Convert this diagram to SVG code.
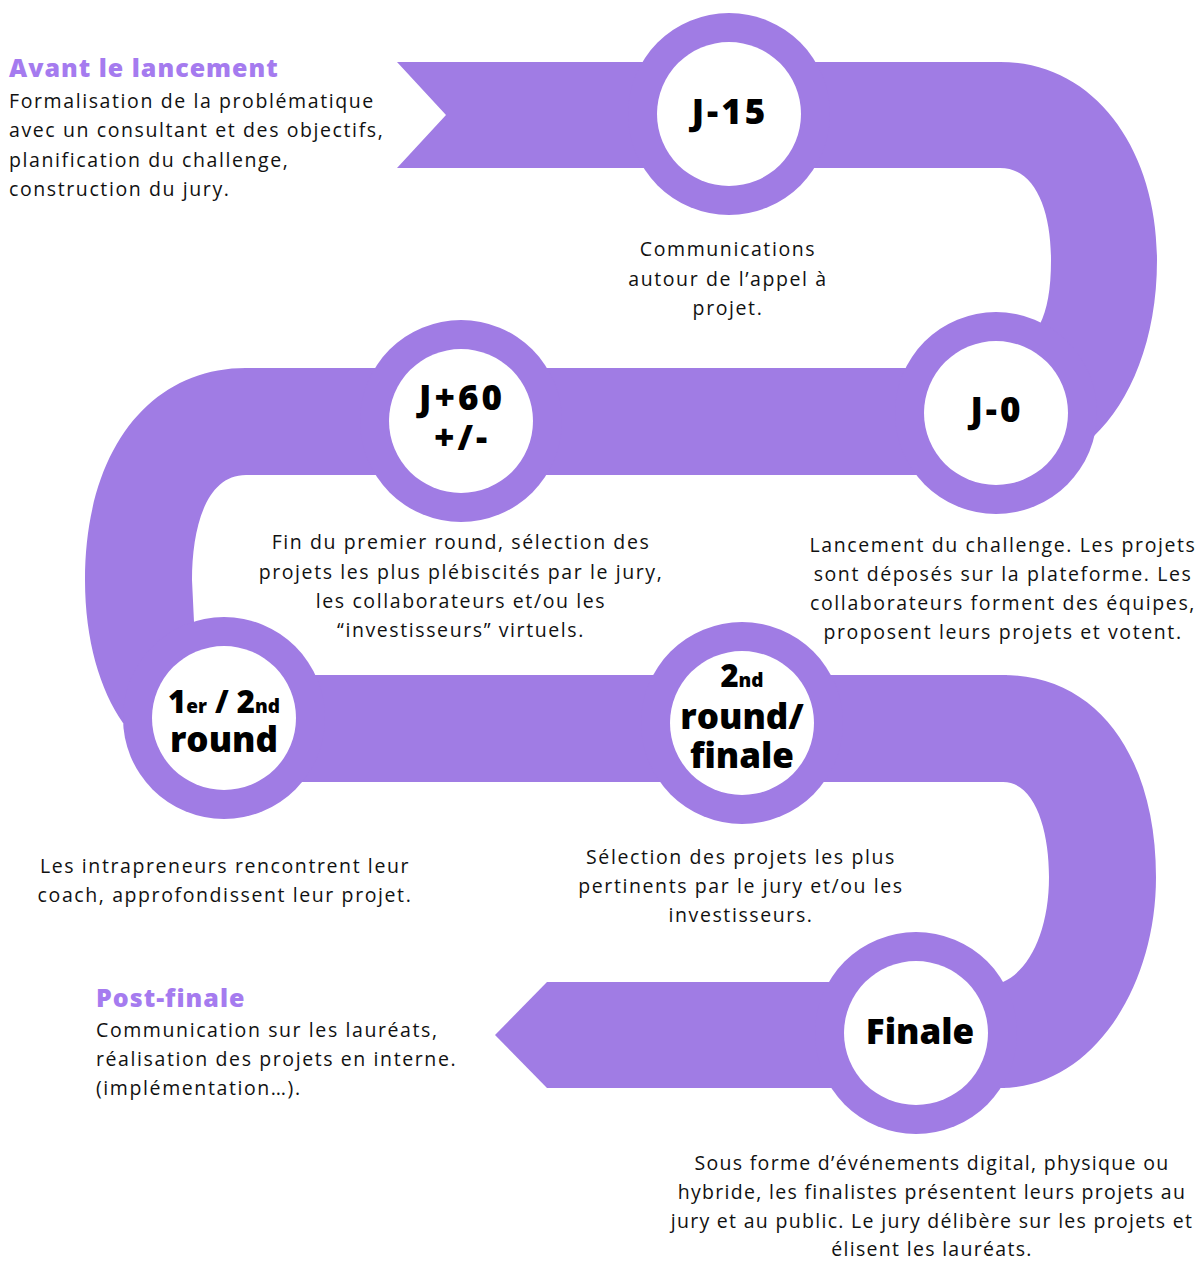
<svg xmlns="http://www.w3.org/2000/svg" width="1202" height="1262" viewBox="0 0 1202 1262">
<defs>
<style>
.band{fill:#A07CE4;}
.outer{fill:#A07CE4;}
.inner{fill:#FFFFFF;}
.lbl{font-family:"Open Sans","Liberation Sans",sans-serif;font-weight:800;fill:#000;text-anchor:middle;}
.jl{letter-spacing:3px;}
.body{font-family:"Open Sans","Liberation Sans",sans-serif;font-size:19.5px;letter-spacing:1.6px;fill:#111;}
.tight{letter-spacing:1.3px;}
.c{text-anchor:middle;}
.ttl{font-family:"Open Sans","Liberation Sans",sans-serif;font-weight:800;font-size:25px;letter-spacing:1px;fill:#A57BEF;}
</style>
</defs>
<rect width="1202" height="1262" fill="#FFFFFF"/>
<g id="connectors">
<polygon class="band" points="397,62 1002,62 1002,168 397,168 446,115"/>
<path class="band" d="M1000,62 C1095,62 1157,150 1157,260 C1157,340 1130,402 1094,436 L996,413 L1040,324 C1047,310 1051,290 1051,260 C1051,210 1035,168 1000,168 Z"/>
<rect class="band" x="244" y="368" width="758" height="107"/>
<path class="band" d="M246,368 C150,368 85,450 85,580 C85,640 100,690 123,723 L224,718 L194,622 L192,580 C192,530 205,475 246,475 Z"/>
<rect class="band" x="224" y="675" width="783" height="107"/>
<path class="band" d="M1003,675 C1100,675 1156,760 1156,877 C1156,990 1090,1088 1001,1088 L916,1033 L1003,982 C1030,970 1049,930 1049,877 C1049,830 1035,782 1003,782 Z"/>
<polygon class="band" points="1005,982 1005,1088 547,1088 495,1035 547,982"/>
</g>
<g id="node-j15">
<circle class="outer" cx="729" cy="114" r="101"/>
<circle class="inner" cx="729" cy="114" r="72"/>
<text class="lbl jl" x="730" y="124" font-size="35">J-15</text>
</g>
<g id="node-j0">
<circle class="outer" cx="996" cy="413" r="101"/>
<circle class="inner" cx="996" cy="413" r="72"/>
<text class="lbl jl" x="997" y="422" font-size="35">J-0</text>
</g>
<g id="node-j60">
<circle class="outer" cx="461" cy="421" r="101"/>
<circle class="inner" cx="461" cy="421" r="72"/>
<text class="lbl jl" x="462" y="410" font-size="35">J+60</text>
<text class="lbl jl" x="462" y="450" font-size="35">+/-</text>
</g>
<g id="node-round1">
<circle class="outer" cx="224" cy="718" r="101"/>
<circle class="inner" cx="224" cy="718" r="72"/>
<text class="lbl" x="224" y="713" font-size="31"><tspan>1</tspan><tspan font-size="19">er</tspan><tspan> / 2</tspan><tspan font-size="19">nd</tspan></text>
<text class="lbl" x="224" y="752" font-size="35">round</text>
</g>
<g id="node-round2">
<circle class="outer" cx="742" cy="723" r="101"/>
<circle class="inner" cx="742" cy="723" r="72"/>
<text class="lbl" x="742" y="687" font-size="31"><tspan>2</tspan><tspan font-size="19">nd</tspan></text>
<text class="lbl" x="742" y="729" font-size="35">round/</text>
<text class="lbl" x="742" y="768" font-size="35">finale</text>
</g>
<g id="node-finale">
<circle class="outer" cx="916" cy="1033" r="101"/>
<circle class="inner" cx="916" cy="1033" r="72"/>
<text class="lbl" x="920" y="1044" font-size="35">Finale</text>
</g>
<g id="text-avant">
<text class="ttl" x="9" y="77">Avant le lancement</text>
<text class="body" x="9" y="108">Formalisation de la problématique</text>
<text class="body" x="9" y="137">avec un consultant et des objectifs,</text>
<text class="body" x="9" y="167">planification du challenge,</text>
<text class="body" x="9" y="196">construction du jury.</text>
</g>
<g id="text-j15">
<text class="body c" x="728" y="256">Communications</text>
<text class="body c" x="728" y="286">autour de l’appel à</text>
<text class="body c" x="728" y="315">projet.</text>
</g>
<g id="text-j60">
<text class="body c" x="461" y="549">Fin du premier round, sélection des</text>
<text class="body c" x="461" y="579">projets les plus plébiscités par le jury,</text>
<text class="body c" x="461" y="608">les collaborateurs  et/ou les</text>
<text class="body c" x="461" y="637">“investisseurs” virtuels.</text>
</g>
<g id="text-j0">
<text class="body c" x="1003" y="552">Lancement du challenge. Les projets</text>
<text class="body c" x="1003" y="581">sont déposés sur la plateforme. Les</text>
<text class="body c" x="1003" y="610">collaborateurs forment des équipes,</text>
<text class="body c" x="1003" y="639">proposent leurs projets et votent.</text>
</g>
<g id="text-round1">
<text class="body c" x="225" y="873">Les intrapreneurs rencontrent leur</text>
<text class="body c" x="225" y="902">coach, approfondissent leur projet.</text>
</g>
<g id="text-round2">
<text class="body c" x="741" y="864">Sélection des projets les plus</text>
<text class="body c" x="741" y="893">pertinents par le jury et/ou les</text>
<text class="body c" x="741" y="922">investisseurs.</text>
</g>
<g id="text-finale">
<text class="body c tight" x="932" y="1170">Sous forme d’événements digital, physique ou</text>
<text class="body c tight" x="932" y="1199">hybride, les finalistes présentent leurs projets au</text>
<text class="body c tight" x="932" y="1228">jury et au public. Le jury délibère sur les projets et</text>
<text class="body c tight" x="932" y="1256">élisent les lauréats.</text>
</g>
<g id="text-post">
<text class="ttl" x="96" y="1007">Post-finale</text>
<text class="body" x="96" y="1037">Communication sur les lauréats,</text>
<text class="body" x="96" y="1066">réalisation des projets en interne.</text>
<text class="body" x="96" y="1095">(implémentation…).</text>
</g>
</svg>
